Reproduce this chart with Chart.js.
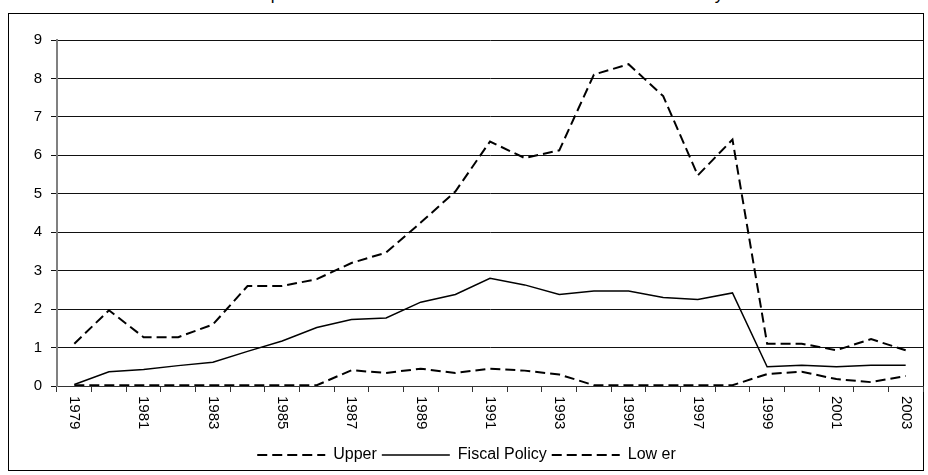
<!DOCTYPE html>
<html>
<head>
<meta charset="utf-8">
<script src="https://cdn.jsdelivr.net/npm/chart.js@4.4.0/dist/chart.umd.min.js"></script>
<style>
  html, body { margin: 0; padding: 0; background: #fff; overflow: hidden; }
  #wrap { position: relative; width: 928px; height: 475px; }
  #frame { position: absolute; left: 8px; top: 13px; width: 916px; height: 458px; border: 1px solid #000; box-sizing: border-box; }
  #title { position: absolute; left: 0; width: 974px; top: -14px; text-align: center;
           font: 17px "Liberation Sans", Arial, sans-serif; line-height: 17px; letter-spacing: 1px; color: #000; }
  canvas { position: absolute; left: 0; top: 0; }
</style>
</head>
<body>
<div id="wrap">
  <div id="title">Impact of a Financial Market Movement on Fiscal Policy</div>
  <div id="frame"></div>
  <canvas id="chart" width="928" height="475"></canvas>
</div>
<script>
// data
const years = ['1979', '1980', '1981', '1982', '1983', '1984', '1985', '1986', '1987', '1988',
               '1989', '1990', '1991', '1992', '1993', '1994', '1995', '1996', '1997', '1998',
               '1999', '2000', '2001', '2002', '2003'];
const upper = [1.1, 1.97, 1.27, 1.27, 1.6, 2.6, 2.6, 2.78, 3.2, 3.47,
               4.25, 5.06, 6.36, 5.93, 6.13, 8.1, 8.37, 7.54, 5.48, 6.41,
               1.1, 1.1, 0.93, 1.22, 0.93];
const fiscal = [0.04, 0.37, 0.43, 0.53, 0.62, 0.9, 1.17, 1.52, 1.73, 1.77,
                2.18, 2.38, 2.8, 2.63, 2.38, 2.47, 2.47, 2.3, 2.25, 2.42,
                0.5, 0.54, 0.5, 0.54, 0.54];
const lower = [0.02, 0.02, 0.02, 0.02, 0.02, 0.02, 0.02, 0.02, 0.41, 0.34,
               0.45, 0.34, 0.45, 0.4, 0.3, 0.02, 0.02, 0.02, 0.02, 0.02,
               0.31, 0.37, 0.18, 0.1, 0.26];
const yTicks = [0, 1, 2, 3, 4, 5, 6, 7, 8, 9];

const fontFamily = '"Liberation Sans", Arial, sans-serif';

// x labels in the reference read top to bottom, every second year
const yearLabels = {
    id: 'yearLabels',
    afterDraw(chart) {
        const ctx = chart.ctx;
        const xs = chart.scales.x;
        ctx.save();
        ctx.font = '15px ' + fontFamily;
        ctx.fillStyle = '#000';
        ctx.textAlign = 'left';
        ctx.textBaseline = 'middle';
        years.forEach((y, i) => {
            if (i % 2 !== 0) return;
            const x = xs.getPixelForValue(i);
            ctx.save();
            ctx.translate(x, xs.top + 10);
            ctx.rotate(Math.PI / 2);
            ctx.fillText(y, 0, 0);
            ctx.restore();
        });
        ctx.restore();
    }
};

const ctx = document.getElementById('chart').getContext('2d');
const chart = new Chart(ctx, {
    type: 'line',
    data: {
        labels: years,
        datasets: [{
            label: 'Upper',
            data: upper,
            borderColor: '#000',
            backgroundColor: '#000',
            borderWidth: 2,
            borderDash: [10, 5],
            pointRadius: 0,
            tension: 0,
            fill: false
        }, {
            label: 'Fiscal Policy',
            data: fiscal,
            borderColor: '#000',
            backgroundColor: '#000',
            borderWidth: 1.5,
            pointRadius: 0,
            tension: 0,
            fill: false
        }, {
            label: 'Low er',
            data: lower,
            borderColor: '#000',
            backgroundColor: '#000',
            borderWidth: 2,
            borderDash: [10, 5],
            pointRadius: 0,
            tension: 0,
            fill: false
        }]
    },
    options: {
        responsive: false,
        animation: false,
        events: [],
        layout: {
            padding: { left: 10, right: 5, top: 40, bottom: 2 }
        },
        plugins: {
            title: { display: false },
            tooltip: { enabled: false },
            legend: {
                position: 'bottom',
                labels: {
                    usePointStyle: true,
                    pointStyle: 'line',
                    pointStyleWidth: 68,
                    boxHeight: 12,
                    padding: 5,
                    color: '#000',
                    font: { size: 16, family: fontFamily },
                    generateLabels(chart) {
                        // point style drops the dash, put it back from the dataset
                        const items = Chart.defaults.plugins.legend.labels.generateLabels(chart);
                        items.forEach(item => {
                            item.lineDash = chart.data.datasets[item.datasetIndex].borderDash || [];
                        });
                        return items;
                    }
                }
            }
        },
        scales: {
            x: {
                offset: true,
                grid: {
                    offset: true,
                    drawOnChartArea: false,
                    drawTicks: true,
                    tickLength: 6,
                    color: '#333'
                },
                border: { color: '#333', width: 1 },
                ticks: { display: false },
                afterFit(scale) { scale.height = 56; }
            },
            y: {
                min: 0,
                max: 9,
                afterBuildTicks(scale) { scale.ticks = yTicks.map(v => ({ value: v })); },
                grid: {
                    color: '#111',
                    lineWidth: 1,
                    tickLength: 6
                },
                border: { color: '#808080', width: 2 },
                ticks: {
                    color: '#000',
                    padding: 9,
                    font: { size: 15, family: fontFamily }
                },
                afterFit(scale) { scale.width = 47; }
            }
        }
    },
    plugins: [yearLabels]
});
</script>
</body>
</html>
